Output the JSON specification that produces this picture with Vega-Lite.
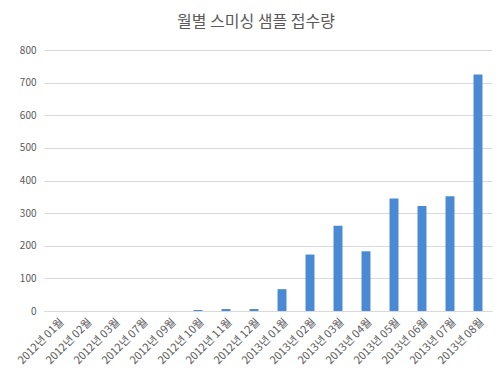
{
  "$schema": "https://vega.github.io/schema/vega-lite/v6.json",
  "width": 448,
  "height": 261,
  "autosize": {"type": "none"},
  "padding": {"left": 44, "top": 50, "right": 8, "bottom": 66},
  "background": "white",
  "title": {
    "text": "월별 스미싱 샘플 접수량",
    "font": "Noto Sans CJK KR",
    "fontSize": 16,
    "fontWeight": "normal",
    "color": "#595959",
    "offset": 15,
    "dx": -12,
    "anchor": "middle"
  },
  "data": {
    "values": [
      {"month": "2012년 01월", "count": 0},
      {"month": "2012년 02월", "count": 0},
      {"month": "2012년 03월", "count": 0},
      {"month": "2012년 07월", "count": 0},
      {"month": "2012년 09월", "count": 0},
      {"month": "2012년 10월", "count": 3},
      {"month": "2012년 11월", "count": 6},
      {"month": "2012년 12월", "count": 6},
      {"month": "2013년 01월", "count": 67},
      {"month": "2013년 02월", "count": 173},
      {"month": "2013년 03월", "count": 261},
      {"month": "2013년 04월", "count": 183},
      {"month": "2013년 05월", "count": 345},
      {"month": "2013년 06월", "count": 322},
      {"month": "2013년 07월", "count": 352},
      {"month": "2013년 08월", "count": 725}
    ]
  },
  "mark": {"type": "bar", "color": "#4a8ad4"},
  "encoding": {
    "x": {
      "field": "month",
      "type": "nominal",
      "sort": null,
      "title": null,
      "scale": {"paddingInner": 0.68, "paddingOuter": 0.34},
      "axis": {
        "labelAngle": -45,
        "labelFont": "Noto Sans CJK KR",
        "labelFontSize": 11,
        "labelColor": "#595959",
        "ticks": false,
        "labelPadding": 5,
        "domainColor": "#d9d9d9",
        "grid": false
      }
    },
    "y": {
      "field": "count",
      "type": "quantitative",
      "title": null,
      "scale": {"domain": [0, 800], "nice": false},
      "axis": {
        "values": [0, 100, 200, 300, 400, 500, 600, 700, 800],
        "labelFont": "Noto Sans CJK KR",
        "labelFontSize": 10,
        "labelColor": "#595959",
        "ticks": false,
        "domain": false,
        "labelPadding": 8,
        "gridColor": "#d9d9d9"
      }
    }
  },
  "config": {"view": {"stroke": null}}
}
